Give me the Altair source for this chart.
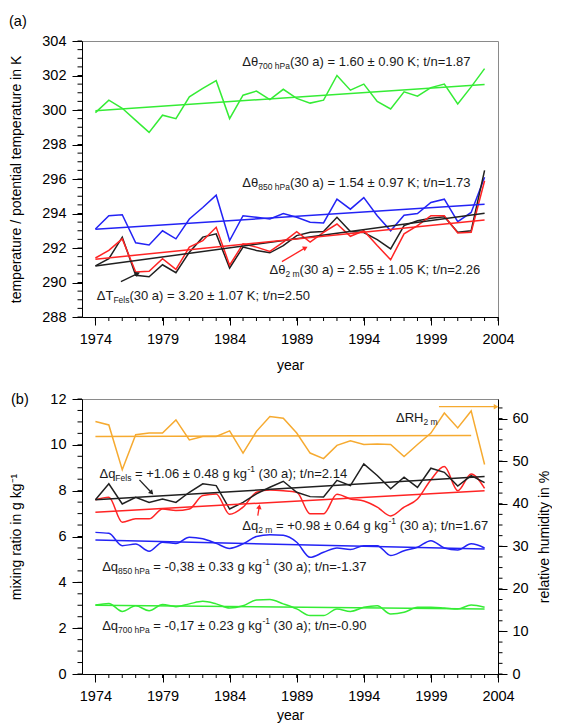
import altair as alt
import pandas as pd

# ---------------- data ----------------
years = list(range(1974, 2004))

# panel (a): temperatures in K
theta_700hpa = [299.85, 300.57, 300.1, 299.4, 298.7, 299.7, 299.5, 300.76, 301.25, 301.7,
                299.5, 300.86, 301.1, 300.6, 301.2, 300.67, 300.4, 300.57, 302.0, 301.15,
                301.5, 300.5, 300.06, 301.05, 300.8, 301.3, 301.5, 300.35, 301.34, 302.4]
theta_850hpa = [293.1, 293.87, 293.93, 292.3, 292.18, 293.0, 292.53, 293.68, 294.35, 295.06,
                292.43, 293.87, 293.78, 293.68, 294.0, 293.78, 293.49, 293.45, 294.83, 294.25,
                294.92, 293.87, 293.0, 293.9, 294.0, 294.64, 294.83, 293.53, 294.06, 296.1]
t_fels = [290.96, 291.38, 292.63, 290.42, 290.33, 291.03, 290.57, 291.76, 292.63, 292.82,
          290.84, 292.05, 291.86, 291.72, 292.14, 292.72, 292.91, 292.95, 293.78, 292.95,
          292.9, 292.49, 291.95, 293.3, 293.58, 293.72, 293.81, 292.91, 293.0, 296.5]
theta_2m = [291.42, 291.86, 292.53, 290.61, 290.65, 291.38, 290.76, 292.05, 292.43, 293.2,
            291.0, 292.24, 292.05, 291.8, 292.34, 292.95, 292.34, 292.91, 293.39, 292.68,
            293.0, 292.14, 291.32, 292.82, 293.3, 293.87, 293.87, 292.87, 292.91, 295.9]

trend_years = [1974, 2003]
trend_700hpa = [299.96, 301.48]
trend_850hpa = [293.08, 294.54]
trend_fels = [290.95, 294.02]
trend_2m = [291.35, 293.62]

# panel (b): mixing ratio in g/kg, relative humidity in %
rh_2m = [59.3, 58.5, 48.0, 56.2, 56.6, 56.6, 59.7, 55.0, 55.8, 55.8,
         57.1, 51.9, 57.0, 60.5, 60.1, 56.6, 51.9, 50.6, 53.7, 54.8,
         53.9, 54.0, 53.9, 51.1, 53.9, 56.6, 61.3, 57.8, 61.8, 49.2]
q_fels = [7.6, 8.3, 7.42, 7.71, 7.49, 7.64, 7.49, 7.93, 8.3, 8.22,
          7.2, 7.49, 7.86, 8.15, 8.41, 7.93, 7.74, 7.72, 8.45, 8.22,
          9.17, 8.66, 8.08, 8.59, 8.14, 8.98, 8.8, 8.2, 8.66, 8.35]
q_2m = [7.6, 7.71, 6.62, 6.77, 6.77, 7.2, 7.13, 7.2, 7.79, 7.86,
        6.97, 7.28, 7.93, 8.03, 8.0, 7.93, 6.99, 6.99, 7.84, 7.64,
        7.55, 7.28, 6.9, 7.28, 7.64, 8.48, 9.05, 8.0, 8.73, 8.1]
q_850hpa = [6.18, 6.14, 5.6, 5.67, 5.36, 5.75, 5.7, 5.97, 5.9, 5.7,
            5.48, 5.68, 6.0, 6.08, 6.05, 5.75, 5.09, 5.31, 5.5, 5.43,
            5.6, 5.6, 5.17, 5.38, 5.53, 5.82, 5.5, 5.41, 5.68, 5.5]
q_700hpa = [3.01, 3.08, 2.73, 2.98, 2.76, 3.03, 2.94, 3.06, 3.17, 3.06,
            2.88, 2.98, 3.23, 3.25, 3.06, 2.84, 2.55, 2.55, 2.84, 2.73,
            2.91, 2.98, 2.62, 2.69, 2.91, 2.91, 2.88, 2.84, 3.01, 2.91]

trend_rh_years = [1974, 2002]
trend_rh = [55.8, 56.0]
trend_q_fels = [7.6, 8.62]
trend_q_2m = [7.06, 8.0]
trend_q_850hpa = [5.85, 5.45]
trend_q_700hpa = [3.0, 2.84]

# annotation arrows: start (year, value) -> tip (year, value), head angle
arrow_a_x1 = [1975.9, 1987.9]
arrow_a_y1 = [290.05, 291.21]
arrow_a_x2 = [1977.1, 1989.6]
arrow_a_y2 = [290.5, 291.99]
arrow_a_ang = [65, 61]
arrow_b_x1 = [1977.28, 1986.1]
arrow_b_y1 = [8.47, 6.91]
arrow_b_x2 = [1978.15, 1986.2]
arrow_b_y2 = [7.93, 7.27]
arrow_b_ang = [137, 10]
arrow_rh_x1 = [1999.6]
arrow_rh_y1 = [62.8]
arrow_rh_x2 = [2003.8]
arrow_rh_y2 = [62.8]
arrow_rh_ang = [90]

# axis tick positions
x_major_ticks = list(range(1974, 2005, 5))
x_minor_ticks = list(range(1974, 2005))
ya_major_ticks = list(range(288, 305, 2))
ya_minor_ticks = [288 + 0.5 * i for i in range(33)]
yb_major_ticks = list(range(0, 13, 2))
yb_minor_ticks = [0.5 * i for i in range(25)]
rh_major_ticks = list(range(0, 61, 10))
rh_minor_ticks = [2.5 * i for i in range(26)]

# ---------------- styling ----------------
FONT = "Liberation Sans"
GREEN = "#35ec35"
BLUE = "#2323f5"
RED = "#ff2424"
BLACK = "#202020"
ORANGE = "#f6aa30"
TXT = "#1a1a1a"

W = 416
H_A = 276
H_B = 275

XS = alt.Scale(domain=[1973, 2004], nice=False, zero=False)
YS_A = alt.Scale(domain=[288, 304], nice=False, zero=False)
YS_B = alt.Scale(domain=[0, 12], nice=False)
YS_RH = alt.Scale(domain=[0, 64.6], nice=False)

series_domain = ["t700", "t850", "tfels", "t2m", "rh", "qfels", "q2m", "q850", "q700"]
series_range = [GREEN, BLUE, BLACK, RED, ORANGE, BLACK, RED, BLUE, GREEN]
COLOR = alt.Color("series:N", scale=alt.Scale(domain=series_domain, range=series_range), legend=None)

CW = {" ": 278, "(": 333, ")": 333, ".": 278, ",": 278, "=": 584, "±": 584, "+": 584,
      "-": 333, ";": 278, "/": 278, "Δ": 668, "θ": 556,
      "a": 556, "b": 556, "c": 500, "d": 556, "e": 556, "f": 278, "g": 556, "h": 556,
      "i": 222, "k": 500, "l": 222, "m": 833, "n": 556, "o": 556, "p": 556, "q": 556,
      "r": 333, "s": 500, "t": 278, "u": 556, "F": 611, "H": 722, "P": 667, "R": 722,
      "T": 611, "K": 667}


def tw(s, fs):
    return sum(CW.get(c, 556) for c in s) / 1000.0 * fs


def long_df(cols, xs):
    rows = []
    for name, vals in cols.items():
        for x, v in zip(xs, vals):
            rows.append({"year": x, "value": v, "series": name})
    return pd.DataFrame(rows)


def label_layers(x, y, segs, yscale):
    out = []
    off = 0.0
    for s, kind in segs:
        fs = 13 if kind == "n" else 8.5
        dy = 0 if kind == "n" else (4 if kind == "s" else -5)
        lead = len(s) - len(s.lstrip(" "))
        body = s.strip(" ")
        start = off + tw(" " * lead, fs)
        out.append(
            alt.Chart(pd.DataFrame({"x": [x], "y": [y], "t": [body]}))
            .mark_text(align="left", baseline="middle", font=FONT, fontSize=fs,
                       color=TXT, dx=start, dy=dy)
            .encode(x=alt.X("x:Q", scale=XS, axis=None),
                    y=alt.Y("y:Q", scale=yscale, axis=None),
                    text="t:N")
        )
        off += tw(s, fs)
    return out


def arrow_layers(x1, y1, x2, y2, ang, color, yscale):
    df = pd.DataFrame({"x1": x1, "y1": y1, "x2": x2, "y2": y2, "ang": ang})
    shaft = alt.Chart(df).mark_rule(color=color, strokeWidth=1.3).encode(
        x=alt.X("x1:Q", scale=XS, axis=None), y=alt.Y("y1:Q", scale=yscale, axis=None),
        x2="x2:Q", y2="y2:Q")
    head = alt.Chart(df).mark_point(shape="triangle", filled=True, size=30, color=color,
                                    opacity=1).encode(
        x=alt.X("x2:Q", scale=XS, axis=None), y=alt.Y("y2:Q", scale=yscale, axis=None),
        angle=alt.Angle("ang:Q", scale=None))
    return [shaft, head]


def x_ticks_layer(vals, height, length):
    return alt.Chart(pd.DataFrame({"v": vals})).mark_rule(color="black", strokeWidth=1).encode(
        x=alt.X("v:Q", scale=XS, axis=None), y=alt.value(height), y2=alt.value(height + length))


def y_ticks_layer(vals, yscale, x0, x1):
    return alt.Chart(pd.DataFrame({"v": vals})).mark_rule(color="black", strokeWidth=1).encode(
        y=alt.Y("v:Q", scale=yscale, axis=None), x=alt.value(x0), x2=alt.value(x1))


def x_major(label_pad, title_pad):
    return alt.Axis(values=x_major_ticks, tickSize=8, labelPadding=label_pad,
                    format="d", title="year", titlePadding=title_pad, grid=False,
                    orient="bottom", labelFlush=False)


# ---------------- panel (a) ----------------
df_a = long_df({"t700": theta_700hpa, "t850": theta_850hpa, "tfels": t_fels,
                "t2m": theta_2m}, years)
df_ta = long_df({"t700": trend_700hpa, "t850": trend_850hpa, "tfels": trend_fels,
                 "t2m": trend_2m}, trend_years)

Y_MAJOR_A = alt.Axis(values=ya_major_ticks, tickSize=10, labelPadding=6,
                     title="temperature / potential temperature in K", titleX=-66,
                     titleY=H_A / 2, titleBaseline="middle", grid=False, orient="left")

lines_a = alt.Chart(df_a).mark_line(strokeWidth=1.5).encode(
    x=alt.X("year:Q", scale=XS, axis=x_major(7, 13)),
    y=alt.Y("value:Q", scale=YS_A, axis=Y_MAJOR_A),
    color=COLOR)
trends_a = alt.Chart(df_ta).mark_line(strokeWidth=1.5).encode(
    x=alt.X("year:Q", scale=XS, axis=None),
    y=alt.Y("value:Q", scale=YS_A, axis=None),
    color=COLOR)

tag_a = alt.Chart(pd.DataFrame({"t": ["(a)"]})).mark_text(
    align="left", baseline="middle", font=FONT, fontSize=14.5, color="black").encode(
    x=alt.value(-73), y=alt.value(-19), text="t:N")

layers_a = [lines_a, trends_a, tag_a,
            x_ticks_layer(x_minor_ticks, H_A, 4),
            y_ticks_layer(ya_minor_ticks, YS_A, -4.5, 0)]
layers_a += label_layers(1984.95, 302.78, [("Δθ", "n"), ("700 hPa", "s"),
                                           ("(30 a) = 1.60 ± 0.90 K; t/n=1.87", "n")], YS_A)
layers_a += label_layers(1984.95, 295.77, [("Δθ", "n"), ("850 hPa", "s"),
                                           ("(30 a) = 1.54 ± 0.97 K; t/n=1.73", "n")], YS_A)
layers_a += label_layers(1986.97, 290.72, [("Δθ", "n"), ("2 m", "s"),
                                           ("(30 a) = 2.55 ± 1.05 K; t/n=2.26", "n")], YS_A)
layers_a += label_layers(1974.1, 289.22, [("ΔT", "n"), ("Fels", "s"),
                                          ("(30 a) = 3.20 ± 1.07 K; t/n=2.50", "n")], YS_A)
layers_a += arrow_layers(arrow_a_x1[:1], arrow_a_y1[:1], arrow_a_x2[:1], arrow_a_y2[:1],
                         arrow_a_ang[:1], BLACK, YS_A)
layers_a += arrow_layers(arrow_a_x1[1:], arrow_a_y1[1:], arrow_a_x2[1:], arrow_a_y2[1:],
                         arrow_a_ang[1:], RED, YS_A)

panel_a = alt.layer(*layers_a).resolve_axis(x="independent", y="independent").properties(
    width=W, height=H_A)

# ---------------- panel (b) ----------------
df_b_lin = long_df({"qfels": q_fels}, years)
df_b_smooth = long_df({"q850": q_850hpa, "q700": q_700hpa, "q2m": q_2m}, years)
df_tb = long_df({"qfels": trend_q_fels, "q2m": trend_q_2m, "q850": trend_q_850hpa,
                 "q700": trend_q_700hpa}, trend_years)
df_rh = long_df({"rh": rh_2m}, years)
df_trh = long_df({"rh": trend_rh}, trend_rh_years)

Y_MAJOR_B = alt.Axis(values=yb_major_ticks, tickSize=10, labelPadding=6,
                     title="mixing ratio in g kg⁻¹", titleX=-66, titleY=H_B / 2,
                     titleBaseline="middle", grid=False, orient="left")
Y_MAJOR_RH = alt.Axis(values=rh_major_ticks, tickSize=9, labelPadding=5,
                      title="relative humidity in %", titleX=46, titleY=H_B / 2,
                      titleAngle=270, titleBaseline="middle", grid=False, orient="right")

rh_line = alt.Chart(df_rh).mark_line(strokeWidth=1.5).encode(
    x=alt.X("year:Q", scale=XS, axis=None),
    y=alt.Y("value:Q", scale=YS_RH, axis=Y_MAJOR_RH),
    color=COLOR)
rh_trend = alt.Chart(df_trh).mark_line(strokeWidth=1.5).encode(
    x=alt.X("year:Q", scale=XS, axis=None),
    y=alt.Y("value:Q", scale=YS_RH, axis=None),
    color=COLOR)
q_lin = alt.Chart(df_b_lin).mark_line(strokeWidth=1.5).encode(
    x=alt.X("year:Q", scale=XS, axis=x_major(7, 6)),
    y=alt.Y("value:Q", scale=YS_B, axis=Y_MAJOR_B),
    color=COLOR)
q_smooth = alt.Chart(df_b_smooth).mark_line(strokeWidth=1.5, interpolate="monotone").encode(
    x=alt.X("year:Q", scale=XS, axis=None),
    y=alt.Y("value:Q", scale=YS_B, axis=None),
    color=COLOR)
q_trends = alt.Chart(df_tb).mark_line(strokeWidth=1.5).encode(
    x=alt.X("year:Q", scale=XS, axis=None),
    y=alt.Y("value:Q", scale=YS_B, axis=None),
    color=COLOR)

tag_b = alt.Chart(pd.DataFrame({"t": ["(b)"]})).mark_text(
    align="left", baseline="middle", font=FONT, fontSize=14.5, color="black").encode(
    x=alt.value(-71), y=alt.value(1), text="t:N")

layers_b = [rh_line, rh_trend, q_smooth, q_lin, q_trends, tag_b,
            x_ticks_layer(x_minor_ticks, H_B, 4),
            y_ticks_layer(yb_minor_ticks, YS_B, -4.5, 0),
            y_ticks_layer(rh_minor_ticks, YS_RH, W, W + 4.5)]
layers_b += label_layers(1996.4, 11.19, [("ΔRH", "n"), ("2 m", "s")], YS_B)
layers_b += label_layers(1974.3, 8.73, [("Δq", "n"), ("Fels", "s"),
                                        (" = +1.06 ± 0.48 g kg", "n"), ("-1", "u"),
                                        (" (30 a); t/n=2.14", "n")], YS_B)
layers_b += label_layers(1984.95, 6.48, [("Δq", "n"), ("2 m", "s"),
                                         (" = +0.98 ± 0.64 g kg", "n"), ("-1", "u"),
                                         (" (30 a); t/n=1.67", "n")], YS_B)
layers_b += label_layers(1974.5, 4.69, [("Δq", "n"), ("850 hPa", "s"),
                                        (" = -0,38 ± 0.33 g kg", "n"), ("-1", "u"),
                                        (" (30 a); t/n=-1.37", "n")], YS_B)
layers_b += label_layers(1974.5, 2.11, [("Δq", "n"), ("700 hPa", "s"),
                                        (" = -0,17 ± 0.23 g kg", "n"), ("-1", "u"),
                                        (" (30 a); t/n=-0.90", "n")], YS_B)
layers_b += arrow_layers(arrow_b_x1[:1], arrow_b_y1[:1], arrow_b_x2[:1], arrow_b_y2[:1],
                         arrow_b_ang[:1], BLACK, YS_B)
layers_b += arrow_layers(arrow_b_x1[1:], arrow_b_y1[1:], arrow_b_x2[1:], arrow_b_y2[1:],
                         arrow_b_ang[1:], RED, YS_B)
layers_b += arrow_layers(arrow_rh_x1, arrow_rh_y1, arrow_rh_x2, arrow_rh_y2,
                         arrow_rh_ang, ORANGE, YS_RH)

panel_b = alt.layer(*layers_b).resolve_scale(y="independent").resolve_axis(
    x="independent", y="independent").properties(width=W, height=H_B)

chart = alt.vconcat(panel_a, panel_b, spacing=17).properties(
    padding={"left": 0, "top": 5, "right": 0, "bottom": 0}
).configure_axis(
    domainColor="black", tickColor="black", labelColor="black", titleColor="black",
    labelFont=FONT, titleFont=FONT, titleFontWeight="normal", labelFontSize=14.5,
    titleFontSize=14, grid=False, domainWidth=1, tickWidth=1
).configure_view(stroke="#8a8a8a", strokeWidth=1)

chart.save("out.html", embed_options={"renderer": "svg", "actions": False})
